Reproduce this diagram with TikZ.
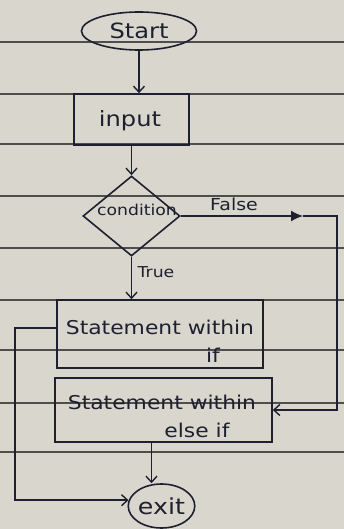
\documentclass[tikz,border=0pt]{standalone}
\usepackage{fontspec}
\setmainfont[FakeStretch=1.15]{DejaVu Sans}
\usetikzlibrary{shapes.geometric,arrows.meta}
\definecolor{paper}{HTML}{D8D6CD}
\definecolor{rule}{HTML}{4E4E4C}
\definecolor{ink}{HTML}{1E2030}
\begin{document}
\begin{tikzpicture}[x=1pt,y=-1pt,
  inkline/.style={draw=ink, line width=1.6pt},
  flow/.style={inkline, -{Straight Barb[length=6pt,width=11pt,line width=1.4pt]}},
  blobflow/.style={inkline, -{Latex[length=12pt,width=11pt]}},
  stepbox/.style={inkline, rectangle, inner sep=0pt},
  terminal/.style={inkline, ellipse, inner sep=0pt, text=ink},
  decision/.style={inkline, diamond, inner sep=0pt},
  lbl/.style={inner sep=0pt, text=ink, font=\fontsize{19}{21}\selectfont},
  small/.style={inner sep=0pt, text=ink, font=\fontsize{15}{17}\selectfont}]
  % ruled notebook paper
  \fill[paper] (0,0) rectangle (344,529);
  \useasboundingbox (0,0) rectangle (344,529);
  \foreach \ry in {42,94,144,196,248,300,350,403,452}
    \draw[rule, line width=1.1pt] (0,\ry) -- (344,\ry);

  % nodes
  \node[terminal, minimum width=115pt, minimum height=38pt,
        font=\fontsize{21}{23}\selectfont] (start) at (139,31) {Start};
  \node[stepbox, minimum width=115pt, minimum height=51pt] (input) at (131.5,119.5) {};
  \node[lbl, font=\fontsize{21}{23}\selectfont] (inputtxt) at (130,121) {input};
  \node[decision, minimum width=97pt, minimum height=80pt] (cond) at (131.5,216) {};
  \node[small] (condtxt) at (137,210) {condition};
  \node[stepbox, minimum width=206pt, minimum height=68pt] (ifst) at (160,334) {};
  \node[lbl] (ifa) at (160,327) {Statement within};
  \node[lbl] (ifb) at (213,355) {if};
  \node[stepbox, minimum width=217pt, minimum height=64pt] (elsest) at (163.5,410) {};
  \node[lbl] (elsea) at (162,402) {Statement within};
  \node[lbl] (elseb) at (197,430) {else if};
  \node[terminal, minimum width=66pt, minimum height=44pt,
        font=\fontsize{22}{24}\selectfont] (exit) at (161.5,506) {exit};

  % branch labels
  \node[small, font=\fontsize{16.5}{18}\selectfont] (falsetxt) at (234,204) {False};
  \node[small, font=\fontsize{15}{17}\selectfont] (truetxt) at (156,272) {True};

  % connectors
  \coordinate (fmid) at (303,216);
  \coordinate (fr) at (337,216);
  \coordinate (lc) at (15,328);
  \draw[flow] (start.south) -- (start.south |- input.north);
  \draw[flow] (input.south) -- (cond.north);
  \draw[flow] (cond.south) -- (cond.south |- ifst.north);
  \draw[blobflow] (cond.east) -- (fmid);
  \draw[flow] (fmid) -- (fr) |- (elsest.east);
  \draw[flow] ([xshift=-12pt]elsest.south) -- ([xshift=-12pt]elsest.south |- exit.north);
  \draw[flow] (ifst.west |- lc) -- (lc) |- (exit.170);
\end{tikzpicture}
\end{document}
